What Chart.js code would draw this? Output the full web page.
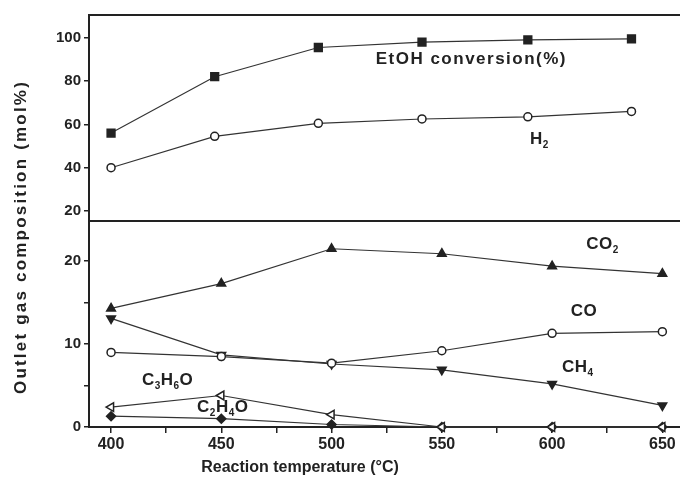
<!DOCTYPE html>
<html>
<head>
<meta charset="utf-8">
<script src="https://cdn.jsdelivr.net/npm/chart.js@4"></script>
<style>
  html, body { margin: 0; padding: 0; background: #fff; }
  #wrap { width: 680px; height: 493px; }
</style>
</head>
<body>
<div id="wrap"><canvas id="gasChart"></canvas></div>
<script>
// Temperatures (the upper panel points sit a bit left of the ticks in the original)
const tempsTop = [400, 447, 494, 541, 589, 636];
const temps = [400, 450, 500, 550, 600, 650];

// Upper panel
const etohConversion = [56, 82, 95.5, 98, 99, 99.5];
const h2 = [40, 54.5, 60.5, 62.5, 63.5, 66];

// Lower panel
const co2 = [14.3, 17.3, 21.5, 20.9, 19.4, 18.5];
const co = [9.0, 8.5, 7.7, 9.2, 11.3, 11.5];
const ch4 = [13.1, 8.7, 7.6, 6.9, 5.2, 2.6];
const c3h6o = [2.4, 3.8, 1.5, 0, 0, 0];
const c2h4o = [1.3, 1.0, 0.3, 0, 0, 0];

// Tick labels
const xTicks = [400, 450, 500, 550, 600, 650];
const topTicks = [20, 40, 60, 80, 100];
const bottomTicks = [0, 10, 20];

const FONT = "'Liberation Sans', Arial, sans-serif";
const INK = '#222';

const pts = (xs, ys) => xs.map((x, i) => ({ x: x, y: ys[i] }));

// major ticks plus one minor tick between each pair
function withMinor(major) {
  const out = [];
  major.forEach((v, i) => {
    out.push({ value: v });
    if (i < major.length - 1) out.push({ value: (v + major[i + 1]) / 2 });
  });
  return out;
}

function series(data, axis, shape, filled, rot, radius) {
  return {
    data: data,
    yAxisID: axis,
    borderColor: '#333',
    borderWidth: 1.2,
    pointStyle: shape,
    pointRotation: rot || 0,
    pointRadius: radius,
    pointBackgroundColor: filled ? INK : '#fff',
    pointBorderColor: INK,
    pointBorderWidth: 1.5,
    clip: false
  };
}

// series labels, placed in data units of the given axis
const seriesLabels = [
  { axis: 'yTop', x: 520, y: 90, parts: [['EtOH conversion(%)', 0]], spacing: 1.5 },
  { axis: 'yTop', x: 590, y: 53, parts: [['H', 0], ['2', 1]] },
  { axis: 'yBot', x: 615.5, y: 22, parts: [['CO', 0], ['2', 1]] },
  { axis: 'yBot', x: 608.5, y: 13.9, parts: [['CO', 0]] },
  { axis: 'yBot', x: 604.5, y: 7.2, parts: [['CH', 0], ['4', 1]] },
  { axis: 'yBot', x: 414, y: 5.6, parts: [['C', 0], ['3', 1], ['H', 0], ['6', 1], ['O', 0]] },
  { axis: 'yBot', x: 439, y: 2.4, parts: [['C', 0], ['2', 1], ['H', 0], ['4', 1], ['O', 0]] }
];

const decorations = {
  id: 'decorations',
  afterDraw(chart) {
    const { ctx, chartArea: a, scales } = chart;
    ctx.save();

    // panel frame lines
    ctx.strokeStyle = INK;
    ctx.lineWidth = 2;
    [scales.yTop.top, scales.yBot.top].forEach(y => {
      ctx.beginPath();
      ctx.moveTo(a.left, y);
      ctx.lineTo(a.right, y);
      ctx.stroke();
    });

    // series labels
    ctx.fillStyle = INK;
    ctx.textBaseline = 'middle';
    ctx.textAlign = 'left';
    seriesLabels.forEach(l => {
      let x = scales.x.getPixelForValue(l.x);
      const y = scales[l.axis].getPixelForValue(l.y);
      ctx.letterSpacing = (l.spacing || 0.5) + 'px';
      l.parts.forEach(([txt, sub]) => {
        ctx.font = sub ? 'bold 10px ' + FONT : 'bold 17px ' + FONT;
        ctx.fillText(txt, x, sub ? y + 6 : y);
        x += ctx.measureText(txt).width;
      });
    });

    // axis titles
    ctx.font = 'bold 16px ' + FONT;
    ctx.letterSpacing = '0px';
    ctx.textAlign = 'center';
    ctx.fillText('Reaction temperature (°C)', 300, 468);
    ctx.translate(21, 237);
    ctx.rotate(-Math.PI / 2);
    ctx.font = 'bold 17px ' + FONT;
    ctx.letterSpacing = '2.2px';
    ctx.fillText('Outlet gas composition (mol%)', 0, 0);
    ctx.restore();
  }
};

function yAxis(min, max, major) {
  return {
    type: 'linear',
    position: 'left',
    stack: 'panels',
    stackWeight: 1,
    min: min,
    max: max,
    afterBuildTicks: s => { s.ticks = withMinor(major); },
    afterFit: s => { s.width = 89; },
    grid: { drawOnChartArea: false, drawTicks: true, tickLength: 5, color: INK, lineWidth: 1.5 },
    border: { display: true, color: INK, width: 2 },
    ticks: {
      color: INK,
      padding: 3,
      font: { family: FONT, size: 15, weight: 'bold' },
      callback: v => major.includes(v) ? String(v) : ''
    }
  };
}

const ctx = document.getElementById('gasChart').getContext('2d');
const gasChart = new Chart(ctx, {
  type: 'line',
  data: {
    datasets: [
      series(pts(tempsTop, etohConversion), 'yTop', 'rect', true, 0, 5.5),
      series(pts(tempsTop, h2), 'yTop', 'circle', false, 0, 4),
      series(pts(temps, co2), 'yBot', 'triangle', true, 0, 5),
      series(pts(temps, co), 'yBot', 'circle', false, 0, 4),
      series(pts(temps, ch4), 'yBot', 'triangle', true, 180, 5),
      series(pts(temps, c3h6o), 'yBot', 'triangle', false, 270, 5),
      series(pts(temps, c2h4o), 'yBot', 'rectRot', true, 0, 4.5)
    ]
  },
  options: {
    responsive: true,
    maintainAspectRatio: false,
    animation: false,
    layout: { autoPadding: false, padding: { top: 15, right: 0, bottom: 0, left: 0 } },
    plugins: {
      legend: { display: false },
      tooltip: { enabled: false }
    },
    scales: {
      x: {
        type: 'linear',
        min: 390,
        max: 658,
        afterBuildTicks: s => { s.ticks = withMinor(xTicks); },
        afterFit: s => { s.height = 66; s.paddingLeft = 0; s.paddingRight = 0; },
        grid: { drawOnChartArea: false, drawTicks: true, tickLength: 6, color: INK, lineWidth: 1.5 },
        border: { display: true, color: INK, width: 2 },
        ticks: {
          color: INK,
          padding: 2,
          maxRotation: 0,
          autoSkip: false,
          font: { family: FONT, size: 16, weight: 'bold' },
          callback: v => xTicks.includes(v) ? String(v) : ''
        }
      },
      // listed bottom-first so the stacked layout puts the percentage panel on top
      yBot: yAxis(0, 24.85, bottomTicks),
      yTop: yAxis(15.4, 110.5, topTicks)
    }
  },
  plugins: [decorations]
});
</script>
</body>
</html>
